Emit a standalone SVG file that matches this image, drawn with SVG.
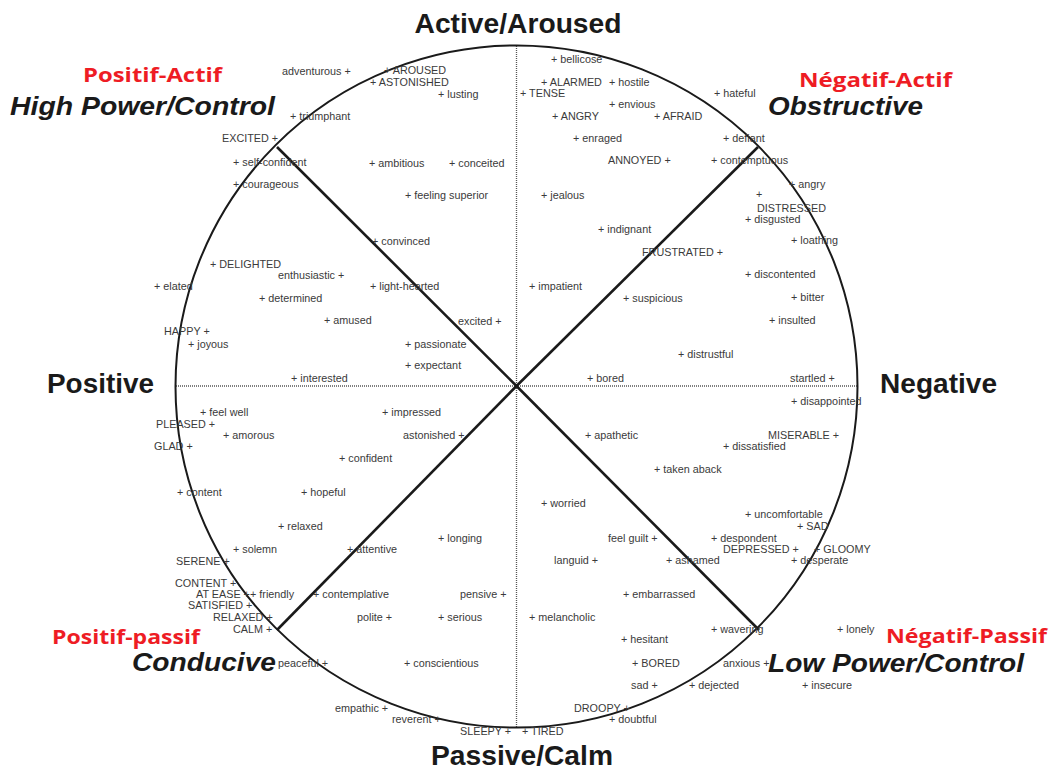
<svg xmlns="http://www.w3.org/2000/svg" width="1056" height="769" viewBox="0 0 1056 769">
<style>
.w{font-family:"Liberation Sans",Arial,sans-serif;font-size:10.8px;fill:#3a3a3a}
.t{font-family:"Liberation Sans",Arial,sans-serif;font-size:27px;font-weight:bold;fill:#1a1a1a}
.ti{font-family:"Liberation Sans",Arial,sans-serif;font-size:26px;font-weight:bold;font-style:italic;fill:#1a1a1a}
.r{font-family:"Open Sans","Liberation Sans",sans-serif;font-size:20px;font-weight:bold;fill:#ee1c24}
.axis{stroke:#555;stroke-width:1.3;stroke-dasharray:1 1;fill:none}
.div{stroke:#1a1a1a;stroke-width:2.6;fill:none}
</style>
<rect width="1056" height="769" fill="#fff"/>
<g id="connectors">
<line class="axis" x1="176" y1="386" x2="857" y2="386"/>
<line class="axis" x1="516.5" y1="46" x2="516.5" y2="727"/>
<line class="div" x1="516.5" y1="386" x2="277" y2="147"/>
<line class="div" x1="516.5" y1="386" x2="758" y2="147"/>
<line class="div" x1="516.5" y1="386" x2="277" y2="630"/>
<line class="div" x1="516.5" y1="386" x2="759" y2="630"/>
</g>
<g id="circle"><circle cx="516.5" cy="386.5" r="341" fill="none" stroke="#1a1a1a" stroke-width="2"/></g>
<g id="axis-labels">
<text class="t" x="518" y="33" text-anchor="middle" textLength="207" lengthAdjust="spacingAndGlyphs">Active/Aroused</text>
<text class="t" x="522" y="765" text-anchor="middle" textLength="182" lengthAdjust="spacingAndGlyphs">Passive/Calm</text>
<text class="t" x="47" y="393" textLength="107" lengthAdjust="spacingAndGlyphs">Positive</text>
<text class="t" x="880" y="393" textLength="117" lengthAdjust="spacingAndGlyphs">Negative</text>
</g>
<g id="quadrant-high-power">
<text class="r" x="83" y="82" textLength="139" lengthAdjust="spacingAndGlyphs">Positif-Actif</text>
<text class="ti" x="10" y="115" textLength="265" lengthAdjust="spacingAndGlyphs">High Power/Control</text>
</g>
<g id="quadrant-obstructive">
<text class="r" x="799" y="87" textLength="153" lengthAdjust="spacingAndGlyphs">Négatif-Actif</text>
<text class="ti" x="768" y="115" textLength="155" lengthAdjust="spacingAndGlyphs">Obstructive</text>
</g>
<g id="quadrant-conducive">
<text class="r" x="52" y="644" textLength="148" lengthAdjust="spacingAndGlyphs">Positif-passif</text>
<text class="ti" x="132" y="671" textLength="144" lengthAdjust="spacingAndGlyphs">Conducive</text>
</g>
<g id="quadrant-low-power">
<text class="r" x="886" y="643" textLength="161" lengthAdjust="spacingAndGlyphs">Négatif-Passif</text>
<text class="ti" x="768" y="672" textLength="256" lengthAdjust="spacingAndGlyphs">Low Power/Control</text>
</g>
<g id="words-upper-left">
<text class="w" x="282" y="75">adventurous +</text>
<text class="w" x="384" y="74">+ AROUSED</text>
<text class="w" x="370" y="86">+ ASTONISHED</text>
<text class="w" x="438" y="98">+ lusting</text>
<text class="w" x="290" y="120">+ triumphant</text>
<text class="w" x="222" y="142">EXCITED +</text>
<text class="w" x="233" y="166">+ self-confident</text>
<text class="w" x="233" y="188">+ courageous</text>
<text class="w" x="369" y="167">+ ambitious</text>
<text class="w" x="449" y="167">+ conceited</text>
<text class="w" x="405" y="199">+ feeling superior</text>
<text class="w" x="372" y="245">+ convinced</text>
<text class="w" x="210" y="268">+ DELIGHTED</text>
<text class="w" x="278" y="279">enthusiastic +</text>
<text class="w" x="154" y="290">+ elated</text>
<text class="w" x="370" y="290">+ light-hearted</text>
<text class="w" x="259" y="302">+ determined</text>
<text class="w" x="324" y="324">+ amused</text>
<text class="w" x="458" y="325">excited +</text>
<text class="w" x="164" y="335">HAPPY +</text>
<text class="w" x="188" y="348">+ joyous</text>
<text class="w" x="405" y="348">+ passionate</text>
<text class="w" x="405" y="369">+ expectant</text>
<text class="w" x="291" y="382">+ interested</text>
</g>
<g id="words-upper-right">
<text class="w" x="551" y="63">+ bellicose</text>
<text class="w" x="541" y="86">+ ALARMED</text>
<text class="w" x="609" y="86">+ hostile</text>
<text class="w" x="520" y="97">+ TENSE</text>
<text class="w" x="714" y="97">+ hateful</text>
<text class="w" x="609" y="108">+ envious</text>
<text class="w" x="552" y="120">+ ANGRY</text>
<text class="w" x="654" y="120">+ AFRAID</text>
<text class="w" x="573" y="142">+ enraged</text>
<text class="w" x="723" y="142">+ defiant</text>
<text class="w" x="608" y="164">ANNOYED +</text>
<text class="w" x="711" y="164">+ contemptuous</text>
<text class="w" x="789" y="188">+ angry</text>
<text class="w" x="541" y="199">+ jealous</text>
<text class="w" x="756" y="198">+</text>
<text class="w" x="757" y="212">DISTRESSED</text>
<text class="w" x="745" y="223">+ disgusted</text>
<text class="w" x="598" y="233">+ indignant</text>
<text class="w" x="791" y="244">+ loathing</text>
<text class="w" x="642" y="256">FRUSTRATED +</text>
<text class="w" x="745" y="278">+ discontented</text>
<text class="w" x="529" y="290">+ impatient</text>
<text class="w" x="623" y="302">+ suspicious</text>
<text class="w" x="791" y="301">+ bitter</text>
<text class="w" x="769" y="324">+ insulted</text>
<text class="w" x="678" y="358">+ distrustful</text>
<text class="w" x="587" y="382">+ bored</text>
<text class="w" x="790" y="382">startled +</text>
</g>
<g id="words-lower-left">
<text class="w" x="200" y="416">+ feel well</text>
<text class="w" x="382" y="416">+ impressed</text>
<text class="w" x="156" y="428">PLEASED +</text>
<text class="w" x="223" y="439">+ amorous</text>
<text class="w" x="403" y="439">astonished +</text>
<text class="w" x="154" y="450">GLAD +</text>
<text class="w" x="339" y="462">+ confident</text>
<text class="w" x="177" y="496">+ content</text>
<text class="w" x="301" y="496">+ hopeful</text>
<text class="w" x="278" y="530">+ relaxed</text>
<text class="w" x="438" y="542">+ longing</text>
<text class="w" x="233" y="553">+ solemn</text>
<text class="w" x="347" y="553">+ attentive</text>
<text class="w" x="176" y="565">SERENE +</text>
<text class="w" x="175" y="587">CONTENT +</text>
<text class="w" x="196" y="598">AT EASE +</text>
<text class="w" x="250" y="598">+ friendly</text>
<text class="w" x="313" y="598">+ contemplative</text>
<text class="w" x="460" y="598">pensive +</text>
<text class="w" x="188" y="609">SATISFIED +</text>
<text class="w" x="213" y="621">RELAXED +</text>
<text class="w" x="357" y="621">polite +</text>
<text class="w" x="438" y="621">+ serious</text>
<text class="w" x="233" y="633">CALM +</text>
<text class="w" x="278" y="667">peaceful +</text>
<text class="w" x="404" y="667">+ conscientious</text>
<text class="w" x="335" y="712">empathic +</text>
<text class="w" x="392" y="723">reverent +</text>
<text class="w" x="460" y="735">SLEEPY +</text>
</g>
<g id="words-lower-right">
<text class="w" x="791" y="405">+ disappointed</text>
<text class="w" x="585" y="439">+ apathetic</text>
<text class="w" x="768" y="439">MISERABLE +</text>
<text class="w" x="723" y="450">+ dissatisfied</text>
<text class="w" x="654" y="473">+ taken aback</text>
<text class="w" x="541" y="507">+ worried</text>
<text class="w" x="745" y="518">+ uncomfortable</text>
<text class="w" x="797" y="530">+ SAD</text>
<text class="w" x="608" y="542">feel guilt +</text>
<text class="w" x="711" y="542">+ despondent</text>
<text class="w" x="723" y="553">DEPRESSED +</text>
<text class="w" x="814" y="553">+ GLOOMY</text>
<text class="w" x="554" y="564">languid +</text>
<text class="w" x="666" y="564">+ ashamed</text>
<text class="w" x="791" y="564">+ desperate</text>
<text class="w" x="623" y="598">+ embarrassed</text>
<text class="w" x="529" y="621">+ melancholic</text>
<text class="w" x="711" y="633">+ wavering</text>
<text class="w" x="837" y="633">+ lonely</text>
<text class="w" x="621" y="643">+ hesitant</text>
<text class="w" x="632" y="667">+ BORED</text>
<text class="w" x="723" y="667">anxious +</text>
<text class="w" x="631" y="689">sad +</text>
<text class="w" x="689" y="689">+ dejected</text>
<text class="w" x="802" y="689">+ insecure</text>
<text class="w" x="574" y="712">DROOPY +</text>
<text class="w" x="609" y="723">+ doubtful</text>
<text class="w" x="522" y="735">+ TIRED</text>
</g>
</svg>
